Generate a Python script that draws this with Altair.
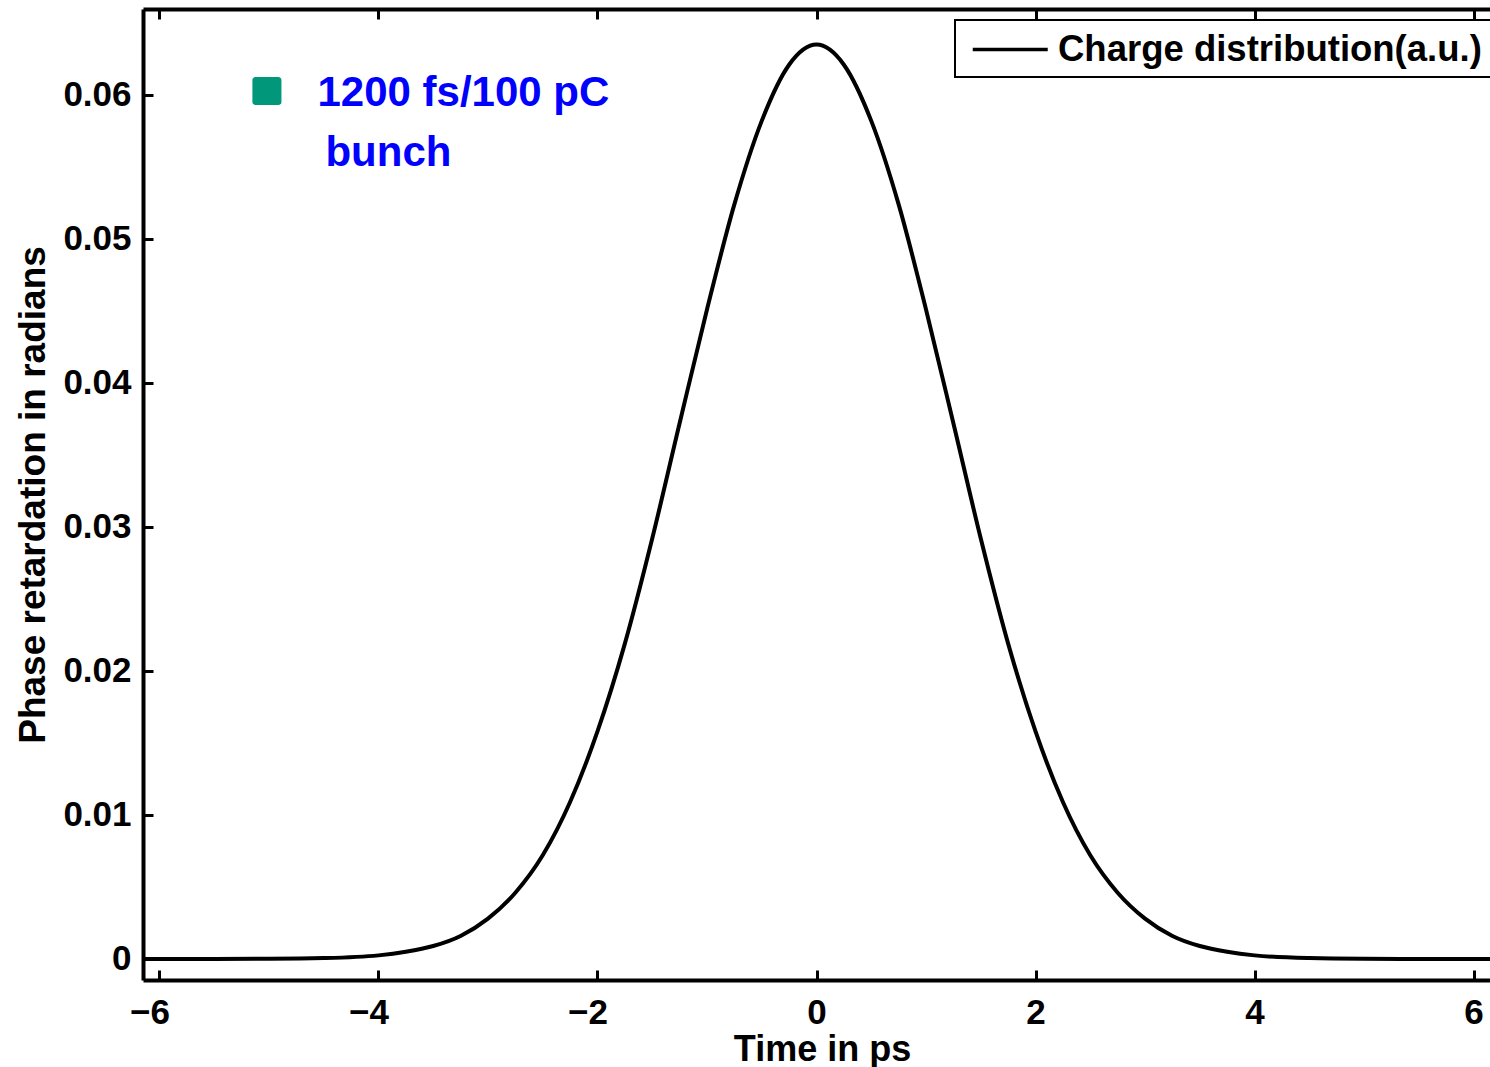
import altair as alt
import pandas as pd

# ---- data ----
time_ps = [-6.15, -6.0, -5.5, -5.0, -4.5, -4.0, -3.75, -3.5, -3.25, -3.0, -2.75, -2.5,
           -2.25, -2.0, -1.75, -1.5, -1.25, -1.0, -0.75, -0.5, -0.25, 0.0,
           0.25, 0.5, 0.75, 1.0, 1.25, 1.5, 1.75, 2.0, 2.25, 2.5, 2.75, 3.0,
           3.25, 3.5, 3.75, 4.0, 4.5, 5.0, 5.5, 6.0, 6.15]
charge = [0.0, 0.0, 0.0, 0.00001, 0.00006, 0.00025, 0.0005, 0.0009, 0.0016, 0.0028, 0.0046, 0.0072,
          0.0109, 0.0158, 0.0219, 0.0292, 0.0372, 0.0451, 0.0524, 0.0582, 0.0621, 0.0635,
          0.0621, 0.0582, 0.0524, 0.0451, 0.0372, 0.0292, 0.0219, 0.0158, 0.0109, 0.0072, 0.0046, 0.0028,
          0.0016, 0.0009, 0.0005, 0.00025, 0.00006, 0.00001, 0.0, 0.0, 0.0]
series_name = ["Charge distribution(a.u.)"]
x_ticks = [-6, -4, -2, 0, 2, 4, 6]
y_ticks = [0, 0.01, 0.02, 0.03, 0.04, 0.05, 0.06]
ann_text = ["1200 fs/100 pC", "bunch"]
ann_t = [-4.557, -4.484]
ann_v = [0.05924, 0.05507]
marker_t = [-5.151]
marker_t2 = [-4.886]
marker_v = [0.06125]
marker_v2 = [0.0593]

df = pd.DataFrame({"t": time_ps, "v": charge, "s": series_name[0]})
ann_df = pd.DataFrame({"t": ann_t, "v": ann_v, "label": ann_text})
mk_df = pd.DataFrame({"t": marker_t, "t2": marker_t2, "v": marker_v, "v2": marker_v2})

W, H = 1347, 971
FONT = "Liberation Sans"
xs = alt.Scale(domain=[-6.15, 6.15], nice=False, zero=False)
ys = alt.Scale(domain=[-0.00146, 0.06597], nice=False, zero=False)

base = alt.Chart(df)

line = base.mark_line(strokeWidth=4, interpolate="monotone").encode(
    x=alt.X("t:Q", scale=xs, axis=alt.Axis(
        orient="bottom", values=x_ticks, format="d", ticks=False, tickSize=0,
        domain=True, domainWidth=4, domainColor="black", grid=False,
        labelFont=FONT, labelFontSize=35, labelFontWeight="bold", labelColor="black",
        labelPadding=15,
        labelOffset={"condition": {"test": "datum.value < 0", "value": -10}, "value": 0},
        title="Time in ps", titleFont=FONT, titleFontSize=36, titleFontWeight="bold",
        titleColor="black", titleX=679, titleY=80, titleBaseline="alphabetic")),
    y=alt.Y("v:Q", scale=ys, axis=alt.Axis(
        orient="left", values=y_ticks, ticks=False, tickSize=0,
        domain=True, domainWidth=4, domainColor="black", grid=False,
        labelExpr="datum.value == 0 ? '0' : format(datum.value, '.2f')",
        labelFont=FONT, labelFontSize=35, labelFontWeight="bold", labelColor="black",
        labelPadding=12,
        title="Phase retardation in radians", titleFont=FONT, titleFontSize=37,
        titleFontWeight="bold", titleColor="black", titleX=-99, titleAngle=-90,
        titleBaseline="alphabetic")),
    color=alt.Color("s:N", scale=alt.Scale(domain=series_name, range=["black"]),
                    legend=alt.Legend(
                        title=None, orient="none", legendX=812, legendY=11,
                        strokeColor="black", fillColor="white", padding=9,
                        symbolType="M-0.627,0H3.373", symbolSize=1406,
                        symbolStrokeWidth=3.5, symbolFillColor="transparent",
                        labelFont=FONT, labelFontSize=36.5, labelFontWeight="bold",
                        labelColor="black", labelOffset=53, labelLimit=0)),
)

# inward ticks on bottom and left edges
ticks_in = base.mark_line(opacity=0).encode(
    x=alt.X("t:Q", scale=xs, axis=alt.Axis(
        orient="top", offset=-H, values=x_ticks, labels=False, domain=False,
        ticks=True, tickSize=10, tickWidth=3, tickColor="black", grid=False, title=None)),
    y=alt.Y("v:Q", scale=ys, axis=alt.Axis(
        orient="right", offset=-W, values=y_ticks, labels=False, domain=False,
        ticks=True, tickSize=10, tickWidth=3, tickColor="black", grid=False, title=None)),
)

# top frame line with inward ticks
top_frame = base.mark_line(opacity=0).encode(
    x=alt.X("t:Q", scale=xs, axis=alt.Axis(
        orient="bottom", offset=-H, values=x_ticks, labels=False, domain=True,
        domainWidth=4, domainColor="black",
        ticks=True, tickSize=10, tickWidth=3, tickColor="black", grid=False, title=None)),
    y=alt.Y("v:Q", scale=ys, axis=None),
)

marker = alt.Chart(mk_df).mark_rect(color="#00977A", cornerRadius=3).encode(
    x=alt.X("t:Q", scale=xs, axis=None),
    x2="t2:Q",
    y=alt.Y("v:Q", scale=ys, axis=None),
    y2="v2:Q",
)

ann = alt.Chart(ann_df).mark_text(
    font=FONT, fontSize=42, fontWeight="bold", color="#0000FF",
    align="left", baseline="alphabetic").encode(
    x=alt.X("t:Q", scale=xs, axis=None),
    y=alt.Y("v:Q", scale=ys, axis=None),
    text="label:N",
)

chart = alt.layer(line, ticks_in, top_frame, marker, ann).resolve_axis(
    x="independent", y="independent"
).properties(
    width=W, height=H,
    padding={"left": 143, "top": 9, "right": 0, "bottom": 87},
    autosize=alt.AutoSizeParams(type="none"),
    background="white",
).configure_view(stroke=None).configure(font=FONT).configure_legend(strokeWidth=2)

chart.save("out.html", embed_options={"renderer": "svg", "actions": False})
